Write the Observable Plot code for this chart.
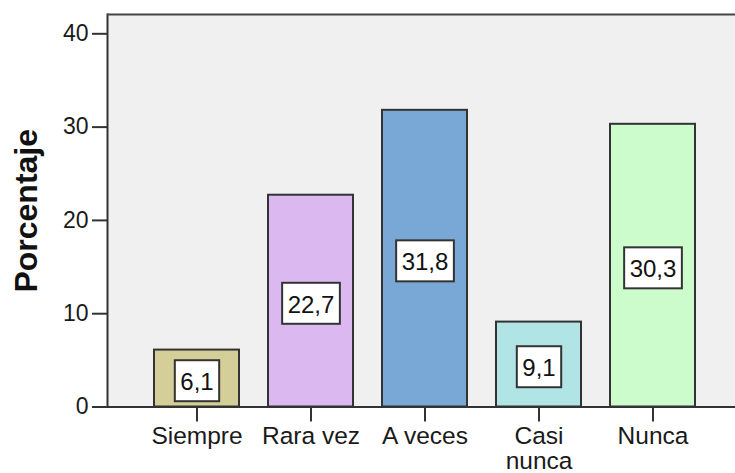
<!DOCTYPE html>
<html>
<head>
<meta charset="utf-8">
<script src="https://cdn.jsdelivr.net/npm/d3@7"></script>
<script src="https://cdn.jsdelivr.net/npm/@observablehq/plot@0.6"></script>
<style>
  html, body { margin: 0; padding: 0; background: #fff; }
  #chart svg { display: block; }
</style>
</head>
<body>
<div id="chart"></div>
<script>
const categories = ["Siempre", "Rara vez", "A veces", "Casi nunca", "Nunca"];
const tickLabels = ["Siempre", "Rara vez", "A veces", "Casi\nnunca", "Nunca"];
const values = [6.1, 22.7, 31.8, 9.1, 30.3];
const colors = ["#d4cf98", "#dcb8f0", "#7aa8d6", "#b1e4e4", "#ccfccc"];
const yTicks = [0, 10, 20, 30, 40];
const yMax = 42.07;

const data = categories.map((c, i) => ({cat: c, v: values[i], color: colors[i]}));
const font = "'Liberation Sans', Arial, sans-serif";

const chart = Plot.plot({
  width: 735,
  height: 473,
  marginLeft: 107,
  marginRight: 0,
  marginTop: 14,
  marginBottom: 66.5,
  style: {fontFamily: font, background: "#fff", color: "#1a1a1a"},
  x: {domain: categories, paddingInner: 0.258, paddingOuter: 0.371, align: 0.54, label: null},
  y: {domain: [0, yMax], label: null},
  marks: [
    Plot.frame({fill: "#f0f0f0", stroke: null}),
    Plot.frame({anchor: "left", stroke: "#333", strokeWidth: 2}),
    Plot.barY(data, {x: "cat", y: "v", fill: "color", stroke: "#333", strokeWidth: 2}),
    Plot.ruleY([0], {stroke: "#333", strokeWidth: 2}),
    Plot.ruleY([yMax], {stroke: "#444", strokeWidth: 2}),
    Plot.axisY({ticks: yTicks, tickSize: 15, tickPadding: 4, fontSize: 23, stroke: "#333", strokeWidth: 2, label: null, tickFormat: d => String(d)}),
    Plot.axisX({tickSize: 15, tickPadding: 4, fontSize: 24.5, lineHeight: 1.02, stroke: "#333", strokeWidth: 2, label: null, tickFormat: d => tickLabels[categories.indexOf(d)]}),
    Plot.text(data, {x: "cat", y: d => d.v / 2, text: d => d.v.toFixed(1).replace(".", ","), fontSize: 24, fill: "#111", dy: 4, className: "barlabel"}),
    Plot.text(["Porcentaje"], {frameAnchor: "left", textAnchor: "middle", dx: -81, rotate: -90, fontSize: 32, fontWeight: "bold", fill: "#111", text: d => d})
  ]
});

document.getElementById("chart").appendChild(chart);

// white boxes behind bar value labels
d3.select(chart).selectAll("g.barlabel text").each(function() {
  const b = this.getBBox();
  const padX = 5.5, padY = 7;
  const t = this.getAttribute("transform");
  d3.select(this.parentNode).insert("rect", () => this)
    .attr("transform", t)
    .attr("x", b.x - padX)
    .attr("y", b.y - padY - 1)
    .attr("width", b.width + 2 * padX)
    .attr("height", b.height + 2 * padY)
    .attr("fill", "#fff")
    .attr("stroke", "#333")
    .attr("stroke-width", 2);
});
</script>
</body>
</html>
